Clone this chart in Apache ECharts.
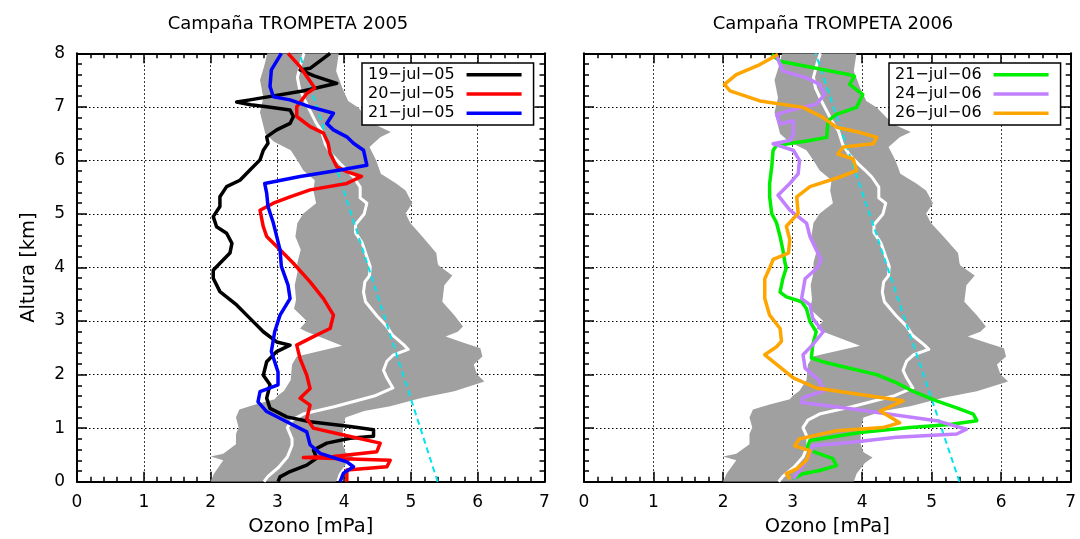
<!DOCTYPE html>
<html>
<head>
<meta charset="utf-8">
<script src="https://cdn.jsdelivr.net/npm/echarts@6/dist/echarts.min.js"></script>
<style>
html,body{margin:0;padding:0;background:#fff;}
#chart{width:1080px;height:539px;}
</style>
</head>
<body>
<div id="chart"></div>
<script>
// ---- data: [ozone mPa, altitude km] ----
const xTicks = [0, 1, 2, 3, 4, 5, 6, 7];
const yTicks = [0, 1, 2, 3, 4, 5, 6, 7, 8];
const titles = ['Campaña TROMPETA 2005', 'Campaña TROMPETA 2006'];
const names2005 = ['19−jul−05', '20−jul−05', '21−jul−05'];
const names2006 = ['21−jul−06', '24−jul−06', '26−jul−06'];

// climatology band (left edge and right edge, top to bottom)
const bandLeft = [[2.85,8.0],[2.80,7.75],[2.74,7.5],[2.79,7.17],[2.74,6.9],[2.78,6.7],[2.82,6.5],[2.95,6.35],[3.20,6.19],[3.30,6.0],[3.39,5.81],[3.56,5.63],[3.54,5.44],[3.58,5.2],[3.39,5.01],[3.30,4.83],[3.27,4.58],[3.35,4.33],[3.30,4.09],[3.30,3.9],[3.26,3.67],[3.28,3.4],[3.25,3.23],[3.44,3.0],[3.34,2.86],[3.44,2.8],[3.97,2.54],[3.29,2.34],[3.22,2.19],[3.20,1.9],[3.10,1.7],[3.0,1.6],[2.96,1.54],[2.67,1.44],[2.43,1.35],[2.38,1.2],[2.42,1.01],[2.38,0.89],[2.38,0.70],[2.19,0.52],[2.0,0.47],[2.19,0.40],[2.05,0.15],[2.0,0.0]];
const bandRight = [[3.92,8.0],[3.88,7.67],[3.97,7.36],[4.06,7.11],[4.21,6.99],[4.35,6.80],[4.49,6.65],[4.70,6.53],[4.54,6.43],[4.38,6.25],[4.48,6.0],[4.55,5.75],[4.78,5.57],[4.92,5.44],[5.02,5.2],[4.92,5.01],[4.99,4.83],[5.17,4.58],[5.38,4.27],[5.40,4.09],[5.41,4.04],[5.62,3.85],[5.50,3.67],[5.47,3.36],[5.65,3.11],[5.78,2.90],[5.70,2.80],[5.52,2.71],[5.80,2.59],[6.04,2.49],[6.07,2.34],[5.94,2.19],[5.99,2.0],[6.10,1.87],[5.65,1.69],[5.17,1.57],[4.69,1.41],[4.30,1.32],[4.02,1.20],[3.98,1.0],[3.98,0.7],[4.02,0.55],[4.15,0.45],[4.04,0.35],[3.92,0.15],[3.88,0.0]];
// climatological mean profile
const meanProfile = [[3.40,8.0],[3.35,7.8],[3.30,7.55],[3.33,7.35],[3.42,7.1],[3.50,6.9],[3.58,6.7],[3.66,6.55],[3.72,6.3],[3.82,6.1],[3.94,5.94],[4.04,5.82],[4.14,5.69],[4.24,5.5],[4.24,5.3],[4.34,5.2],[4.30,5.0],[4.17,4.8],[4.17,4.65],[4.27,4.46],[4.34,4.2],[4.39,4.02],[4.38,3.85],[4.31,3.73],[4.29,3.54],[4.32,3.36],[4.49,3.10],[4.64,2.90],[4.72,2.74],[4.89,2.56],[4.96,2.47],[4.74,2.37],[4.64,2.25],[4.59,2.08],[4.64,1.94],[4.73,1.75],[4.45,1.60],[3.85,1.40],[3.40,1.27],[3.22,1.15],[3.15,1.01],[3.22,0.80],[3.22,0.68],[3.15,0.46],[3.02,0.27],[2.86,0.10],[2.80,0.0]];
// reference straight profile (cyan dashed)
const refProfile = [[5.40,0.0],[3.33,8.0]];

const black05 = [[3.79,8.0],[3.49,7.72],[3.34,7.69],[3.55,7.58],[3.89,7.44],[3.40,7.30],[2.59,7.13],[2.39,7.09],[2.60,7.04],[2.84,7.0],[3.19,6.94],[3.24,6.82],[3.19,6.69],[2.99,6.57],[2.84,6.44],[2.86,6.32],[2.79,6.19],[2.74,6.01],[2.59,5.82],[2.44,5.63],[2.24,5.51],[2.14,5.32],[2.14,5.14],[2.04,4.95],[2.09,4.76],[2.24,4.64],[2.32,4.45],[2.29,4.27],[2.14,4.08],[2.04,3.95],[2.04,3.80],[2.14,3.55],[2.39,3.30],[2.59,3.05],[2.79,2.80],[2.99,2.61],[3.19,2.55],[2.99,2.43],[2.84,2.24],[2.79,1.99],[2.89,1.81],[2.84,1.56],[2.89,1.37],[3.14,1.21],[3.49,1.12],[4.09,1.03],[4.44,0.97],[4.44,0.85],[4.09,0.81],[3.74,0.72],[3.54,0.59],[3.59,0.44],[3.44,0.31],[3.19,0.19],[3.04,0.09],[3.01,0.0]];
const red05 = [[3.16,8.0],[3.34,7.75],[3.56,7.35],[3.44,7.25],[3.29,7.0],[3.29,6.82],[3.49,6.63],[3.69,6.51],[3.76,6.32],[3.79,6.13],[3.89,5.88],[4.04,5.79],[4.26,5.70],[4.04,5.57],[3.49,5.45],[3.19,5.32],[2.94,5.20],[2.74,5.07],[2.79,4.76],[2.84,4.58],[3.04,4.33],[3.24,4.08],[3.49,3.73],[3.69,3.42],[3.84,3.11],[3.79,2.86],[3.54,2.71],[3.29,2.55],[3.34,2.30],[3.44,1.99],[3.49,1.74],[3.34,1.56],[3.49,1.43],[3.44,1.18],[3.54,1.00],[3.89,0.90],[4.54,0.72],[4.49,0.56],[3.84,0.47],[3.39,0.45],[4.69,0.40],[4.64,0.28],[4.04,0.22],[4.04,0.0]];
const blue05 = [[3.06,8.0],[2.91,7.69],[2.89,7.38],[2.94,7.19],[3.19,7.13],[3.49,7.0],[3.84,6.88],[3.74,6.69],[3.84,6.57],[4.04,6.44],[4.14,6.32],[4.29,6.19],[4.34,5.91],[3.94,5.82],[3.34,5.70],[2.81,5.57],[2.84,5.39],[2.86,5.14],[2.94,4.83],[2.99,4.58],[3.04,4.33],[3.06,4.02],[3.16,3.67],[3.19,3.42],[3.04,3.11],[2.96,2.80],[2.91,2.43],[3.01,2.05],[3.01,1.81],[2.74,1.68],[2.71,1.49],[2.84,1.31],[3.14,1.12],[3.44,0.93],[3.49,0.69],[3.64,0.53],[4.04,0.37],[4.14,0.28],[3.99,0.16],[3.94,0.0]];

const green06 = [[2.70,7.98],[2.82,7.85],[3.82,7.60],[3.89,7.57],[3.82,7.42],[4.01,7.23],[3.92,6.99],[3.63,6.86],[3.51,6.74],[3.49,6.43],[3.25,6.37],[2.77,6.28],[2.72,6.19],[2.70,5.88],[2.67,5.57],[2.67,5.32],[2.70,5.01],[2.77,4.83],[2.82,4.58],[2.86,4.33],[2.89,4.09],[2.91,4.0],[2.86,3.79],[2.82,3.54],[2.91,3.45],[3.13,3.36],[3.20,3.23],[3.25,2.99],[3.34,2.80],[3.29,2.56],[3.27,2.31],[3.49,2.22],[3.82,2.12],[4.21,2.0],[4.49,1.85],[4.73,1.69],[5.07,1.51],[5.36,1.38],[5.60,1.26],[5.65,1.14],[5.26,1.07],[4.69,1.01],[3.97,0.92],[3.25,0.77],[3.20,0.61],[3.39,0.52],[3.58,0.43],[3.63,0.30],[3.39,0.21],[3.15,0.15],[3.0,0.05]];
const purple06 = [[2.77,7.95],[2.86,7.67],[3.20,7.54],[3.39,7.42],[3.46,7.23],[3.34,7.05],[2.96,6.93],[2.77,6.86],[2.82,6.68],[3.01,6.74],[3.01,6.49],[2.96,6.37],[2.72,6.31],[3.01,6.19],[3.10,6.0],[3.08,5.75],[2.96,5.57],[2.79,5.35],[2.96,5.07],[3.20,4.83],[3.25,4.58],[3.34,4.33],[3.41,4.15],[3.36,4.0],[3.18,3.79],[3.13,3.42],[3.25,3.30],[3.29,3.05],[3.44,2.80],[3.29,2.56],[3.15,2.37],[3.18,2.12],[3.39,1.88],[3.44,1.69],[3.15,1.57],[3.13,1.48],[3.73,1.38],[4.40,1.26],[5.07,1.14],[5.50,0.98],[5.36,0.89],[4.49,0.83],[3.82,0.73],[3.29,0.67],[3.25,0.52],[3.20,0.40],[3.10,0.21],[3.01,0.05]];
const orange06 = [[2.79,7.98],[2.53,7.79],[2.19,7.60],[2.02,7.42],[2.10,7.30],[2.53,7.11],[3.15,6.99],[3.44,6.80],[3.63,6.62],[3.97,6.52],[4.21,6.43],[4.16,6.31],[3.73,6.25],[3.65,6.12],[3.87,6.03],[3.92,5.81],[3.68,5.69],[3.25,5.51],[3.06,5.32],[3.08,5.01],[2.91,4.77],[2.96,4.52],[2.94,4.27],[2.72,4.15],[2.67,3.99],[2.60,3.79],[2.60,3.42],[2.67,3.11],[2.82,2.86],[2.84,2.62],[2.77,2.52],[2.60,2.37],[2.77,2.19],[3.01,1.94],[3.34,1.75],[3.97,1.63],[4.59,1.51],[4.26,1.32],[4.54,1.10],[4.30,1.01],[3.63,0.95],[3.10,0.80],[3.03,0.67],[3.25,0.58],[3.20,0.40],[3.06,0.24],[2.91,0.15],[2.96,0.05]];

const colors2005 = ['#000000', '#ff0000', '#0000ff'];
const colors2006 = ['#00ee00', '#c080ff', '#ffa500'];

// ---- chart ----
const FONT = 'DejaVu Sans';
const chart = echarts.init(document.getElementById('chart'), null, {renderer: 'canvas'});

const grids = [
  {left: 77, top: 53.3, width: 467.5, height: 428.4, outerBoundsMode: 'none', containLabel: false},
  {left: 584, top: 53.3, width: 486.7, height: 428.4, outerBoundsMode: 'none', containLabel: false}
];

function xAxisCfg(gi, pos) {
  const main = pos === 'bottom';
  return {
    type: 'value', gridIndex: gi, position: pos,
    min: xTicks[0], max: xTicks[xTicks.length - 1], interval: 1,
    axisLine: {show: true, onZero: false, lineStyle: {color: '#000', width: 2}},
    axisTick: {show: true, inside: true, length: 10, lineStyle: {color: '#000', width: 1.5}},
    minorTick: {show: true, splitNumber: 5, length: 5, lineStyle: {color: '#000', width: 1.5}},
    axisLabel: {show: main, color: '#000', fontFamily: FONT, fontSize: 17, margin: 12},
    splitLine: {show: main, lineStyle: {color: '#000', width: 1, type: [1.5, 2.5]}},
    name: main ? 'Ozono [mPa]' : '',
    nameLocation: 'middle', nameGap: 35,
    nameTextStyle: {color: '#000', fontFamily: FONT, fontSize: 19.5}
  };
}
function yAxisCfg(gi, pos) {
  const main = pos === 'left';
  return {
    type: 'value', gridIndex: gi, position: pos,
    min: yTicks[0], max: yTicks[yTicks.length - 1], interval: 1,
    axisLine: {show: true, onZero: false, lineStyle: {color: '#000', width: 2}},
    axisTick: {show: true, inside: true, length: 10, lineStyle: {color: '#000', width: 1.5}},
    minorTick: {show: true, splitNumber: 5, length: 5, lineStyle: {color: '#000', width: 1.5}},
    axisLabel: {show: main && gi === 0, color: '#000', fontFamily: FONT, fontSize: 17, margin: 12},
    splitLine: {show: main, lineStyle: {color: '#000', width: 1, type: [1.5, 2.5]}},
    name: (main && gi === 0) ? 'Altura [km]' : '',
    nameLocation: 'middle', nameGap: 38,
    nameTextStyle: {color: '#000', fontFamily: FONT, fontSize: 19.5}
  };
}

function bandSeries(ai) {
  return {
    type: 'custom', xAxisIndex: ai, yAxisIndex: ai, silent: true, z: 1,
    data: [[bandLeft[0][0], bandLeft[0][1]]],
    clip: true,
    renderItem: function (params, api) {
      const pts = bandLeft.concat(bandRight.slice().reverse()).map(p => api.coord(p));
      return {type: 'polygon', shape: {points: pts}, style: {fill: '#a0a0a0', stroke: null}};
    }
  };
}
function lineSeries(ai, name, data, color, width, dash, z) {
  return {
    type: 'line', name: name, xAxisIndex: ai, yAxisIndex: ai, data: data,
    showSymbol: false, symbol: 'none', silent: true, z: z, clip: true,
    lineStyle: {color: color, width: width, type: dash || 'solid', join: 'round'},
    itemStyle: {color: color}
  };
}

const series = [];
[0, 2].forEach(ai => {
  series.push(bandSeries(ai));
  series.push(lineSeries(ai, '_mean' + ai, meanProfile, '#ffffff', 3, null, 3));
  series.push(lineSeries(ai, '_ref' + ai, refProfile, '#00e5ee', 2, [6, 4], 4));
});
[black05, red05, blue05].forEach((d, i) => series.push(lineSeries(0, names2005[i], d, colors2005[i], 3.5, null, 5)));
[green06, purple06, orange06].forEach((d, i) => series.push(lineSeries(2, names2006[i], d, colors2006[i], 3.5, null, 5)));

function legendCfg(left, names) {
  return {
    orient: 'vertical', left: left, top: 63, align: 'right',
    data: names, icon: 'rect', itemWidth: 55, itemHeight: 3.5, itemGap: 0,
    padding: [2, 12, 2, 6],
    backgroundColor: '#fff', borderColor: '#000', borderWidth: 1.5, borderRadius: 0,
    selectedMode: false,
    textStyle: {color: '#000', fontFamily: FONT, fontSize: 16, lineHeight: 19.3, padding: [0, 7, 0, 0]}
  };
}

const option = {
  animation: false,
  backgroundColor: '#fff',
  title: [
    {text: titles[0], left: 283, textAlign: 'center', top: 10, textStyle: {color: '#000', fontFamily: FONT, fontSize: 18, fontWeight: 'normal'}},
    {text: titles[1], left: 828, textAlign: 'center', top: 10, textStyle: {color: '#000', fontFamily: FONT, fontSize: 18, fontWeight: 'normal'}}
  ],
  legend: [legendCfg(362, names2005), legendCfg(889, names2006)],
  grid: grids,
  xAxis: [xAxisCfg(0, 'bottom'), xAxisCfg(0, 'top'), xAxisCfg(1, 'bottom'), xAxisCfg(1, 'top')],
  yAxis: [yAxisCfg(0, 'left'), yAxisCfg(0, 'right'), yAxisCfg(1, 'left'), yAxisCfg(1, 'right')],
  series: series
};
chart.setOption(option);
</script>
</body>
</html>
